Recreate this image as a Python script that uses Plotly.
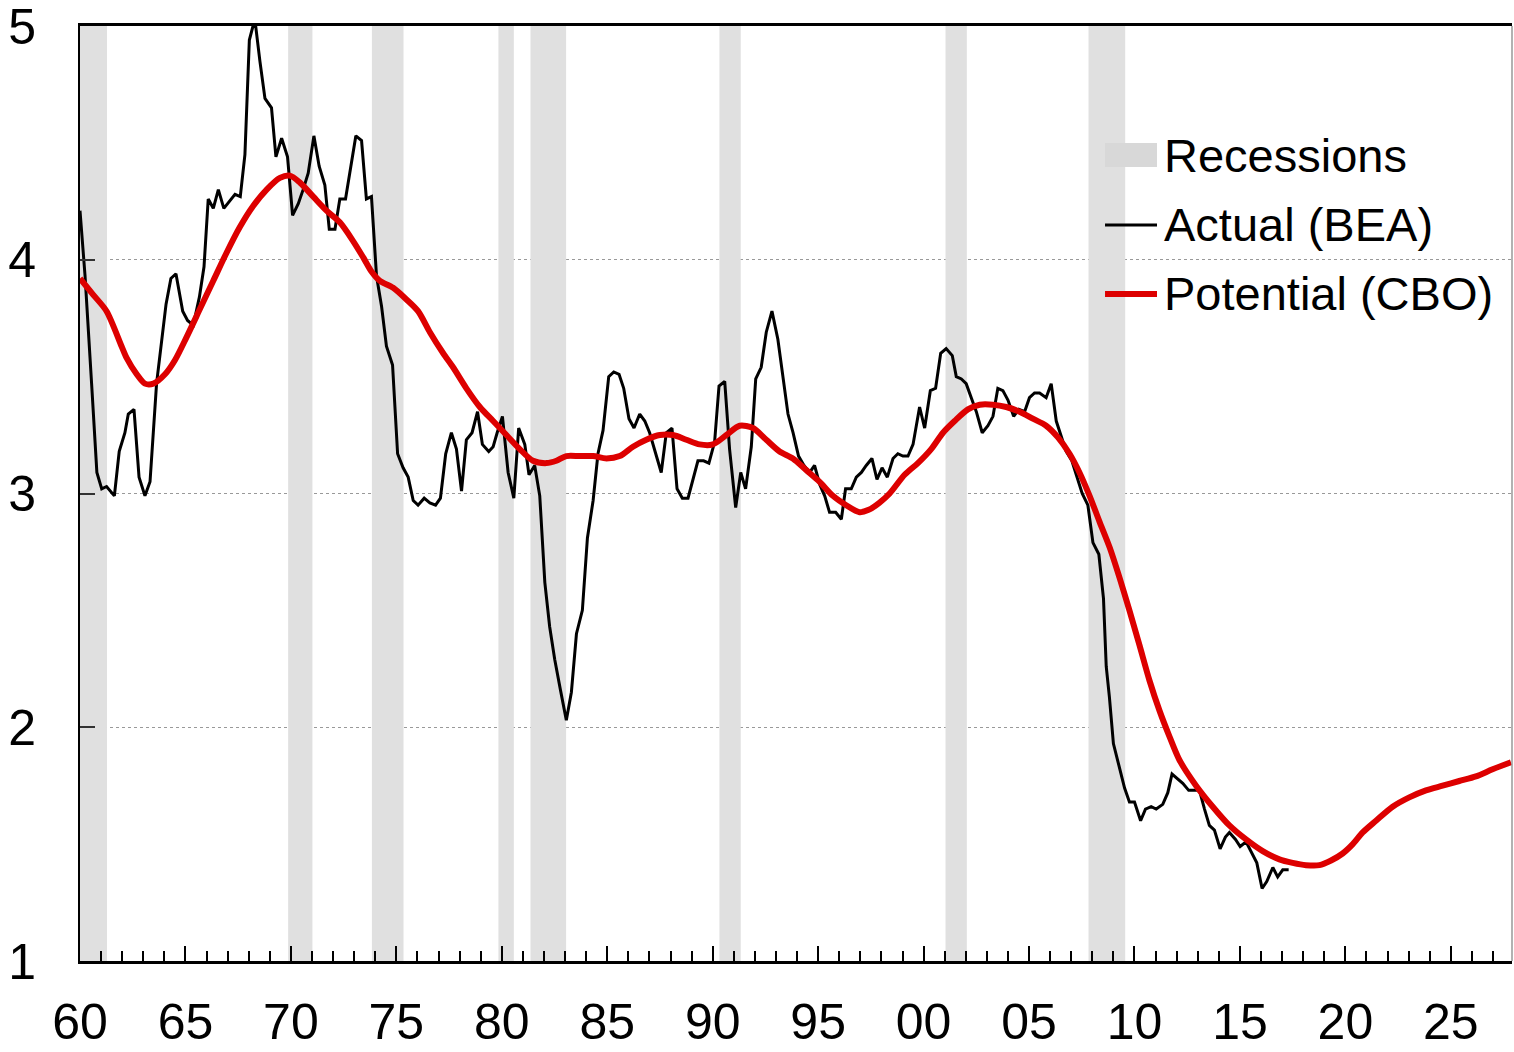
import plotly.graph_objects as go

# ---------------- data ----------------
recession_start = [1960.0, 1969.87, 1973.84, 1979.84, 1981.36, 1990.32, 2001.04, 2007.82]
recession_end = [1961.28, 1971.02, 1975.34, 1980.57, 1983.05, 1991.33, 2002.05, 2009.56]

actual_years = [
    1960.0, 1960.24, 1960.55, 1960.8, 1961.03, 1961.26, 1961.63, 1961.86, 1962.13, 1962.29,
    1962.56, 1962.8, 1963.08, 1963.32, 1963.63, 1964.08, 1964.31, 1964.55, 1964.87, 1965.1,
    1965.37, 1965.66, 1965.88, 1966.08, 1966.32, 1966.56, 1966.82, 1967.08, 1967.35, 1967.6,
    1967.82, 1968.03, 1968.29, 1968.53, 1968.77, 1969.08, 1969.29, 1969.56, 1969.84, 1970.08,
    1970.35, 1970.58, 1970.82, 1971.09, 1971.34, 1971.61, 1971.82, 1972.09, 1972.32, 1972.59,
    1972.83, 1973.08, 1973.35, 1973.58, 1973.82, 1974.06, 1974.3, 1974.53, 1974.82, 1975.06,
    1975.32, 1975.56, 1975.8, 1976.03, 1976.32, 1976.59, 1976.86, 1977.09, 1977.34, 1977.61,
    1977.85, 1978.09, 1978.32, 1978.59, 1978.85, 1979.08, 1979.38, 1979.59, 1979.78, 1980.03,
    1980.3, 1980.57, 1980.8, 1981.09, 1981.29, 1981.56, 1981.8, 1982.04, 1982.27, 1982.51,
    1982.78, 1983.06, 1983.3, 1983.54, 1983.82, 1984.06, 1984.33, 1984.56, 1984.8, 1985.07,
    1985.31, 1985.56, 1985.78, 1986.03, 1986.27, 1986.54, 1986.78, 1987.01, 1987.3, 1987.56,
    1987.8, 1988.07, 1988.31, 1988.56, 1988.83, 1989.07, 1989.3, 1989.57, 1989.82, 1990.09,
    1990.3, 1990.57, 1990.8, 1991.09, 1991.33, 1991.56, 1991.83, 1992.04, 1992.3, 1992.54,
    1992.81, 1993.09, 1993.33, 1993.57, 1993.81, 1994.07, 1994.33, 1994.6, 1994.83, 1995.07,
    1995.31, 1995.54, 1995.83, 1996.1, 1996.3, 1996.57, 1996.81, 1997.05, 1997.28, 1997.55,
    1997.79, 1998.03, 1998.28, 1998.55, 1998.78, 1999.02, 1999.26, 1999.5, 1999.81, 2000.05,
    2000.32, 2000.57, 2000.81, 2001.07, 2001.36, 2001.55, 2001.79, 2002.02, 2002.26, 2002.5,
    2002.78, 2003.05, 2003.29, 2003.52, 2003.76, 2004.0, 2004.27, 2004.52, 2004.79, 2005.02,
    2005.26, 2005.5, 2005.81, 2006.05, 2006.29, 2006.53, 2006.76, 2007.03, 2007.27, 2007.52,
    2007.79, 2008.03, 2008.31, 2008.53, 2008.66, 2008.81, 2009.0, 2009.26, 2009.53, 2009.76,
    2010.0, 2010.29, 2010.52, 2010.79, 2011.03, 2011.34, 2011.58, 2011.78, 2012.05, 2012.29,
    2012.57, 2012.84, 2013.08, 2013.32, 2013.55, 2013.79, 2014.06, 2014.31, 2014.5, 2014.79,
    2015.01, 2015.29, 2015.53, 2015.8, 2016.05, 2016.27, 2016.56, 2016.79, 2017.03, 2017.31,
]
actual_values = [
    4.21, 3.93, 3.47, 3.09, 3.02, 3.03, 2.99, 3.18, 3.26, 3.34,
    3.36, 3.07, 2.99, 3.05, 3.47, 3.81, 3.92, 3.94, 3.78, 3.74,
    3.72, 3.84, 3.97, 4.26, 4.22, 4.30, 4.22, 4.25, 4.28, 4.27,
    4.45, 4.94, 5.03, 4.85, 4.69, 4.65, 4.44, 4.52, 4.44, 4.19,
    4.24, 4.30, 4.37, 4.53, 4.40, 4.32, 4.13, 4.13, 4.26, 4.26,
    4.40, 4.53, 4.51, 4.26, 4.27, 3.93, 3.80, 3.63, 3.55, 3.17,
    3.11, 3.07, 2.97, 2.95, 2.98, 2.96, 2.95, 2.98, 3.17, 3.26,
    3.19, 3.01, 3.23, 3.26, 3.35, 3.21, 3.18, 3.20, 3.26, 3.33,
    3.09, 2.98, 3.28, 3.21, 3.08, 3.12, 2.99, 2.62, 2.43, 2.29,
    2.16, 2.03, 2.15, 2.40, 2.50, 2.81, 2.97, 3.17, 3.27, 3.50,
    3.52, 3.51, 3.45, 3.32, 3.28, 3.34, 3.31, 3.26, 3.17, 3.09,
    3.26, 3.28, 3.02, 2.98, 2.98, 3.06, 3.14, 3.14, 3.13, 3.22,
    3.46, 3.48, 3.19, 2.94, 3.09, 3.02, 3.20, 3.49, 3.54, 3.69,
    3.78, 3.66, 3.50, 3.34, 3.26, 3.16, 3.12, 3.09, 3.12, 3.04,
    2.99, 2.92, 2.92, 2.89, 3.02, 3.02, 3.07, 3.09, 3.12, 3.15,
    3.06, 3.11, 3.07, 3.15, 3.17, 3.16, 3.16, 3.21, 3.37, 3.28,
    3.44, 3.45, 3.60, 3.62, 3.59, 3.50, 3.49, 3.47, 3.41, 3.35,
    3.26, 3.29, 3.33, 3.45, 3.44, 3.40, 3.33, 3.36, 3.35, 3.41,
    3.43, 3.43, 3.41, 3.47, 3.31, 3.24, 3.18, 3.14, 3.07, 3.00,
    2.95, 2.79, 2.74, 2.55, 2.26, 2.13, 1.93, 1.83, 1.74, 1.68,
    1.68, 1.60, 1.65, 1.66, 1.65, 1.67, 1.72, 1.80, 1.78, 1.76,
    1.73, 1.73, 1.73, 1.65, 1.58, 1.56, 1.48, 1.53, 1.55, 1.52,
    1.49, 1.51, 1.47, 1.42, 1.31, 1.34, 1.40, 1.36, 1.39, 1.39,
]

potential_years = [
    1960.0, 1960.63, 1961.26, 1961.97, 1962.21, 1962.69, 1963.08, 1963.48, 1964.03, 1964.5,
    1965.06, 1965.69, 1966.32, 1966.95, 1967.58, 1968.21, 1968.85, 1969.48, 1969.95, 1970.43,
    1971.06, 1971.69, 1972.32, 1972.95, 1973.43, 1973.82, 1974.22, 1974.85, 1975.48, 1976.03,
    1976.59, 1977.22, 1977.69, 1978.32, 1978.96, 1979.59, 1980.22, 1980.85, 1981.48, 1982.12,
    1982.59, 1983.06, 1983.7, 1984.33, 1984.96, 1985.59, 1986.22, 1986.85, 1987.49, 1988.12,
    1988.75, 1989.38, 1990.01, 1990.65, 1991.28, 1991.91, 1992.54, 1993.17, 1993.8, 1994.44,
    1995.07, 1995.7, 1996.33, 1996.96, 1997.4, 1997.9, 1998.39, 1999.1, 1999.73, 2000.36,
    2000.92, 2001.47, 2002.1, 2002.66, 2003.29, 2003.92, 2004.55, 2005.18, 2005.81, 2006.37,
    2006.92, 2007.39, 2007.87, 2008.34, 2008.82, 2009.29, 2009.76, 2010.24, 2010.71, 2011.19,
    2011.66, 2012.13, 2012.92, 2013.71, 2014.5, 2015.29, 2016.08, 2016.87, 2017.5, 2018.13,
    2018.77, 2019.32, 2019.87, 2020.35, 2020.82, 2021.45, 2022.24, 2023.03, 2023.82, 2024.61,
    2025.4, 2026.19, 2026.98, 2027.85,
]
potential_values = [
    3.92, 3.85, 3.78, 3.63, 3.58, 3.51, 3.47, 3.47, 3.51, 3.57,
    3.67, 3.79, 3.91, 4.03, 4.14, 4.23, 4.30, 4.35, 4.36, 4.33,
    4.27, 4.21, 4.16, 4.08, 4.01, 3.95, 3.91, 3.88, 3.83, 3.78,
    3.69, 3.60, 3.54, 3.45, 3.37, 3.31, 3.25, 3.19, 3.14, 3.13,
    3.14, 3.16, 3.16, 3.16, 3.15, 3.16, 3.20, 3.23, 3.25, 3.25,
    3.23, 3.21, 3.21, 3.25, 3.29, 3.28, 3.23, 3.18, 3.15, 3.10,
    3.05, 2.99, 2.95, 2.92, 2.93, 2.96, 3.00, 3.08, 3.13, 3.19,
    3.26, 3.31, 3.36, 3.38, 3.38, 3.37, 3.35, 3.32, 3.29, 3.24,
    3.17, 3.09, 2.99, 2.88, 2.77, 2.64, 2.50, 2.35, 2.20, 2.07,
    1.96, 1.86, 1.75, 1.66, 1.58, 1.52, 1.47, 1.435, 1.42, 1.41,
    1.41, 1.43, 1.46, 1.50, 1.55, 1.60, 1.66, 1.70, 1.73, 1.75,
    1.77, 1.79, 1.82, 1.85,
]

tick_years = [1960, 1965, 1970, 1975, 1980, 1985, 1990, 1995, 2000, 2005, 2010, 2015, 2020, 2025]
tick_labels = ["60", "65", "70", "75", "80", "85", "90", "95", "00", "05", "10", "15", "20", "25"]
y_ticks = [1, 2, 3, 4, 5]

legend_names = ["Recessions", "Actual (BEA)", "Potential (CBO)"]

Y_MIN, Y_MAX = 1, 5
FONT = "Liberation Sans, Arial, sans-serif"
BAND = "#E0E0E0"
BLACK = "#000000"
RED = "#DD0000"

# recession band polygons built from the start/end arrays
band_x, band_y = [], []
for s, e in zip(recession_start, recession_end):
    band_x += [s, s, e, e, s, None]
    band_y += [Y_MIN, Y_MAX, Y_MAX, Y_MIN, Y_MIN, None]

fig = go.Figure()
fig.add_trace(go.Scatter(
    x=band_x, y=band_y, name=legend_names[0], mode="lines",
    fill="toself", fillcolor=BAND, line=dict(width=0, color=BAND),
    hoverinfo="skip", showlegend=False,
))
fig.add_trace(go.Scatter(
    x=actual_years, y=actual_values, name=legend_names[1], mode="lines",
    line=dict(color=BLACK, width=3), showlegend=False,
))
fig.add_trace(go.Scatter(
    x=potential_years, y=potential_values, name=legend_names[2], mode="lines",
    line=dict(color=RED, width=6, shape="spline", smoothing=0.8), showlegend=False,
))

# ---- legend (real text + swatches in paper coordinates) ----
sw_x0, sw_x1 = 0.7158, 0.7521
text_x = 0.7556
rows_y = [0.862, 0.7872, 0.7134]
shapes = [
    dict(type="rect", xref="paper", yref="paper", x0=sw_x0, x1=sw_x1,
         y0=rows_y[0] - 0.0128, y1=rows_y[0] + 0.0128, line=dict(width=0), fillcolor="#D8D8D8"),
    dict(type="line", xref="paper", yref="paper", x0=sw_x0, x1=sw_x1,
         y0=rows_y[1], y1=rows_y[1], line=dict(color=BLACK, width=3)),
    dict(type="line", xref="paper", yref="paper", x0=sw_x0, x1=sw_x1,
         y0=rows_y[2], y1=rows_y[2], line=dict(color=RED, width=6)),
    dict(type="line", xref="paper", yref="paper", x0=1, x1=1, y0=0, y1=1,
         line=dict(color="#999999", width=1.5)),
]
annotations = [
    dict(text=name, xref="paper", yref="paper", x=text_x, y=yy, xanchor="left", yanchor="middle",
         showarrow=False, font=dict(size=47, family=FONT, color="black"))
    for name, yy in zip(legend_names, rows_y)
]

fig.update_layout(
    width=1514, height=1052,
    margin=dict(l=80, r=2, t=26, b=91, autoexpand=False),
    paper_bgcolor="white", plot_bgcolor="white",
    font=dict(family=FONT, color="black"),
    showlegend=False,
    shapes=shapes,
    annotations=annotations,
    xaxis=dict(
        range=[1960, 2027.9], automargin=False,
        tickmode="array", tickvals=tick_years, ticktext=tick_labels,
        ticks="inside", ticklen=15, tickwidth=2, tickcolor="black",
        minor=dict(dtick=1, tick0=1960, ticks="inside", ticklen=10, tickwidth=2,
                   tickcolor="black", showgrid=False),
        showline=True, linecolor="black", linewidth=3, mirror=True,
        showgrid=False, zeroline=False,
        tickfont=dict(size=50, family=FONT, color="black"),
        ticklabelstandoff=15, ticklabeloverflow="allow",
    ),
    yaxis=dict(
        range=[Y_MIN, Y_MAX], automargin=False,
        tickmode="array", tickvals=y_ticks, ticktext=[str(v) for v in y_ticks],
        ticks="inside", ticklen=15, tickwidth=2, tickcolor="#333333",
        showline=True, linecolor="black", linewidth=2,
        showgrid=True, gridcolor="#999999", gridwidth=1, griddash="dot",
        zeroline=False,
        tickfont=dict(size=50, family=FONT, color="black"),
        ticklabelstandoff=32, ticklabeloverflow="allow",
    ),
)

page_fix = (
    "var h=document.documentElement,b=document.body;"
    "h.style.margin='0';h.style.padding='0';h.style.overflow='hidden';"
    "b.style.margin='0';b.style.padding='0';b.style.overflow='hidden';"
    "b.style.fontSize='0';b.style.lineHeight='0';"
    "document.querySelectorAll('.plotly-graph-div,.svg-container,.main-svg').forEach("
    "function(e){e.style.overflow='hidden';});"
)

fig.write_html("out.html", config={"displayModeBar": False}, post_script=page_fix)
